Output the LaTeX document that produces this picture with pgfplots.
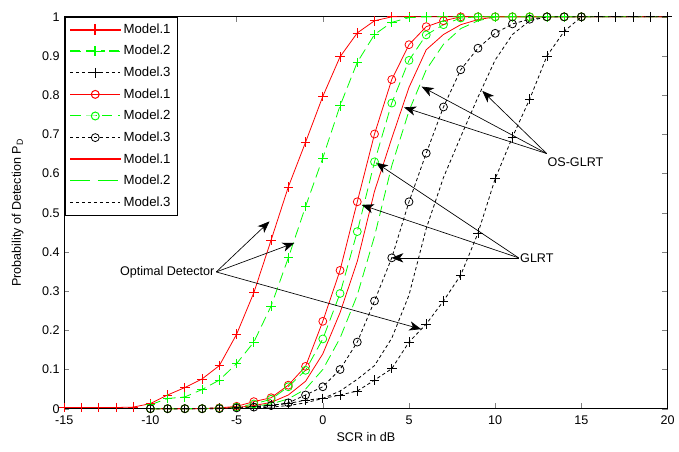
\documentclass[border=0pt]{standalone}
\usepackage{pgfplots}
\pgfplotsset{compat=1.18}
\usepackage{fontspec}
\setmainfont{Liberation Sans}
\usetikzlibrary{arrows.meta}
\definecolor{mred}{RGB}{255,0,0}
\definecolor{mgreen}{RGB}{0,255,0}
\definecolor{lredA}{RGB}{254,0,0}
\definecolor{lredB}{RGB}{253,1,1}
\definecolor{lredC}{RGB}{252,2,2}
\definecolor{lgreenA}{RGB}{0,254,0}
\definecolor{lgreenB}{RGB}{1,253,1}
\definecolor{lgreenC}{RGB}{2,252,2}
\tikzset{
  sA/.style={line width=0.6pt},
  sL/.style={line width=0.75pt},
  dB/.style={dash pattern=on 8pt off 4pt},
  dC/.style={dash pattern=on 2.5pt off 2pt},
}
\begin{document}
\begin{tikzpicture}[x=0.75pt,y=0.75pt]
\begin{axis}[
  width=456.2pt, height=296.25pt, scale only axis,
  xmin=-15, xmax=20, ymin=0, ymax=1,
  xtick={-15,-10,...,20}, ytick={0,0.1,...,1.0},
  yticklabels={0,0.1,0.2,0.3,0.4,0.5,0.6,0.7,0.8,0.9,1},
  tick align=inside, major tick length=4pt,
  /pgf/number format/assume math mode=true,
  tick label style={font=\fontsize{9.5}{11}\selectfont},
  xticklabel style={yshift=-2pt},
  label style={font=\fontsize{9.5}{11}\selectfont},
  xlabel={SCR in dB},
  ylabel={Probability of Detection P\textsubscript{D}},
  xlabel style={at={(axis description cs:0.5,-0.071)},anchor=center},
  ylabel style={at={(axis description cs:-0.077,0.5)},anchor=center},
  axis line style={line width=0.6pt},
  clip=false,
  legend cell align=left,
  legend style={at={(axis description cs:0.002,1)},anchor=north west,
    font=\fontsize{10}{12}\selectfont, row sep=3.6pt, inner xsep=3pt, inner ysep=3pt},
]
% Optimal detector
\addplot[sA, draw=mred, mark=+, mark size=3.6pt, mark options={solid,draw=mred},
  legend image code/.code={%
    \fill[fill=lredA] (0pt,-0.35pt) rectangle (38pt,0.35pt);
    \fill[fill=lredA] (18.65pt,-3.6pt) rectangle (19.35pt,3.6pt);}] coordinates {
(-15,0.003)(-14,0.003)(-13,0.003)(-12,0.003)(-11,0.004)(-10,0.013)(-9,0.035)(-8,0.054)(-7,0.076)(-6,0.11)(-5,0.19)(-4,0.296)(-3,0.43)(-2,0.566)(-1,0.68)(0,0.797)(1,0.898)(2,0.959)(3,0.99)(4,1)(5,1)(6,1)(7,1)(8,1)(9,1)(10,1)(11,1)(12,1)(13,1)(14,1)(15,1)(16,1)(17,1)(18,1)(19,1)(20,1)};
\addlegendentry{Model.1}
\addplot[sA, draw=mgreen, dB, mark=+, mark size=3.6pt, mark options={solid,draw=mgreen},
  legend image code/.code={%
    \fill[fill=lgreenA] (0pt,-0.35pt) rectangle (8pt,0.35pt);
    \fill[fill=lgreenA] (12pt,-0.35pt) rectangle (26pt,0.35pt);
    \fill[fill=lgreenA] (30pt,-0.35pt) rectangle (38pt,0.35pt);
    \fill[fill=lgreenA] (18.65pt,-3.6pt) rectangle (19.35pt,3.6pt);}] coordinates {
(-10,0.01)(-9,0.026)(-8,0.03)(-7,0.049)(-6,0.073)(-5,0.115)(-4,0.17)(-3,0.262)(-2,0.385)(-1,0.516)(0,0.64)(1,0.773)(2,0.884)(3,0.955)(4,0.986)(5,0.998)(6,1)(7,1)(8,1)(9,1)(10,1)(11,1)(12,1)(13,1)(14,1)(15,1)(16,1)(17,1)(18,1)(19,1)(20,1)};
\addlegendentry{Model.2}
\addplot[sA, draw=black, dC, mark=+, mark size=3.6pt, mark options={solid,draw=black},
  legend image code/.code={\draw[sA,black,dC,mark=+,mark size=3.6pt,mark options={solid},mark repeat=2,mark phase=2] plot coordinates {(0pt,0pt)(19pt,0pt)(38pt,0pt)};}] coordinates {
(-10,0)(-9,0)(-8,0)(-7,0.001)(-6,0.002)(-5,0.003)(-4,0.006)(-3,0.009)(-2,0.013)(-1,0.022)(0,0.026)(1,0.035)(2,0.045)(3,0.073)(4,0.102)(5,0.17)(6,0.216)(7,0.275)(8,0.341)(9,0.448)(10,0.587)(11,0.693)(12,0.79)(13,0.9)(14,0.963)(15,1)(16,1)(17,1)(18,1)(19,1)(20,1)};
\addlegendentry{Model.3}
% GLRT
\addplot[sA, draw=mred, mark=o, mark size=3pt, mark options={solid,draw=mred},
  legend image code/.code={\color{lredB}\pgfsetstrokecolor{lredB}\draw[sL,color=lredB,mark=o,mark size=3pt,mark repeat=2,mark phase=2] plot coordinates {(0pt,0pt)(19pt,0pt)(38pt,0pt)};}] coordinates {
(-10,0)(-9,0)(-8,0)(-7,0)(-6,0.002)(-5,0.006)(-4,0.018)(-3,0.028)(-2,0.06)(-1,0.108)(0,0.223)(1,0.353)(2,0.528)(3,0.701)(4,0.84)(5,0.929)(6,0.975)(7,0.99)(8,1)(9,1)(10,1)(11,1)(12,1)(13,1)(14,1)(15,1)};
\addlegendentry{Model.1}
\addplot[sA, draw=mgreen, dB, mark=o, mark size=3pt, mark options={solid,draw=mgreen},
  legend image code/.code={\color{lgreenB}\pgfsetstrokecolor{lgreenB}\draw[sL,color=lgreenB,dB,mark=o,mark size=3pt,mark options={solid},mark repeat=2,mark phase=2] plot coordinates {(0pt,0pt)(19pt,0pt)(38pt,0pt)};}] coordinates {
(-10,0)(-9,0)(-8,0)(-7,0)(-6,0.001)(-5,0.004)(-4,0.012)(-3,0.024)(-2,0.056)(-1,0.098)(0,0.178)(1,0.294)(2,0.452)(3,0.63)(4,0.78)(5,0.889)(6,0.954)(7,0.98)(8,0.997)(9,1)(10,1)(11,1)(12,1)(13,1)(14,1)(15,1)};
\addlegendentry{Model.2}
\addplot[sA, draw=black, dC, mark=o, mark size=3pt, mark options={solid,draw=black},
  legend image code/.code={\draw[sA,black,dC,mark=o,mark size=3pt,mark options={solid},mark repeat=2,mark phase=2] plot coordinates {(0pt,0pt)(19pt,0pt)(38pt,0pt)};}] coordinates {
(-10,0)(-9,0)(-8,0)(-7,0)(-6,0)(-5,0.002)(-4,0.004)(-3,0.008)(-2,0.015)(-1,0.035)(0,0.056)(1,0.1)(2,0.17)(3,0.275)(4,0.385)(5,0.528)(6,0.652)(7,0.77)(8,0.865)(9,0.92)(10,0.958)(11,0.982)(12,0.994)(13,1)(14,1)(15,1)};
\addlegendentry{Model.3}
% OS-GLRT
\addplot[sA, draw=mred, mark=none,
  legend image code/.code={\fill[fill=lredC] (0pt,-0.35pt) rectangle (38pt,0.35pt);}] coordinates {
(-10,0)(-8,0)(-6,0.001)(-5,0.003)(-4,0.008)(-3,0.016)(-2,0.035)(-1,0.07)(0,0.14)(1,0.245)(2,0.376)(3,0.555)(4,0.69)(5,0.82)(6,0.916)(7,0.955)(8,0.98)(9,0.993)(10,1)(15,1)(20,1)};
\addlegendentry{Model.1}
\addplot[sA, draw=mgreen, mark=none, dB,
  legend image code/.code={\color{lgreenC}\pgfsetstrokecolor{lgreenC}\draw[sL,color=lgreenC,dash pattern=on 15pt off 6pt] (0pt,0pt) -- (38pt,0pt);}] coordinates {
(-10,0)(-8,0)(-6,0.001)(-5,0.002)(-4,0.006)(-3,0.012)(-2,0.025)(-1,0.05)(0,0.1)(1,0.18)(2,0.29)(3,0.44)(4,0.62)(5,0.76)(6,0.865)(7,0.93)(8,0.97)(9,0.99)(10,1)(15,1)(20,1)};
\addlegendentry{Model.2}
\addplot[sA, draw=black, mark=none, dC,
  legend image code/.code={\draw[sA,black,dC] (0pt,0pt) -- (38pt,0pt);}] coordinates {
(-10,0)(-8,0)(-6,0)(-4,0.002)(-3,0.004)(-2,0.008)(-1,0.015)(0,0.026)(1,0.045)(2,0.075)(3,0.11)(4,0.18)(5,0.29)(6,0.46)(7,0.59)(8,0.694)(9,0.795)(10,0.89)(11,0.955)(12,0.99)(13,1)(15,1)(20,1)};
\addlegendentry{Model.3}
% annotations
\draw[line width=0.5pt,-{Stealth[length=9pt,width=7pt,inset=2.5pt]}] (axis cs:-6.18,0.349) -- (axis cs:-3.09,0.478);
\draw[line width=0.5pt,-{Stealth[length=9pt,width=7pt,inset=2.5pt]}] (axis cs:-6.18,0.349) -- (axis cs:-1.65,0.423);
\draw[line width=0.5pt,-{Stealth[length=9pt,width=7pt,inset=2.5pt]}] (axis cs:-6.18,0.349) -- (axis cs:5.71,0.203);
\node[anchor=east,inner sep=1pt,font=\fontsize{9.5}{11}\selectfont] at (axis cs:-6.2,0.347) {Optimal Detector};
\draw[line width=0.5pt,-{Stealth[length=9pt,width=7pt,inset=2.5pt]}] (axis cs:12.99,0.651) -- (axis cs:5.73,0.822);
\draw[line width=0.5pt,-{Stealth[length=9pt,width=7pt,inset=2.5pt]}] (axis cs:12.99,0.651) -- (axis cs:4.71,0.769);
\draw[line width=0.5pt,-{Stealth[length=9pt,width=7pt,inset=2.5pt]}] (axis cs:12.99,0.651) -- (axis cs:9.25,0.811);
\node[anchor=west,inner sep=1pt,font=\fontsize{9.5}{11}\selectfont] at (axis cs:12.95,0.628) {OS-GLRT};
\draw[line width=0.5pt,-{Stealth[length=9pt,width=7pt,inset=2.5pt]}] (axis cs:11.36,0.385) -- (axis cs:2.26,0.52);
\draw[line width=0.5pt,-{Stealth[length=9pt,width=7pt,inset=2.5pt]}] (axis cs:11.36,0.385) -- (axis cs:3.98,0.385);
\draw[line width=0.5pt,-{Stealth[length=9pt,width=7pt,inset=2.5pt]}] (axis cs:11.36,0.385) -- (axis cs:3.08,0.628);
\node[anchor=west,inner sep=1pt,font=\fontsize{9.5}{11}\selectfont] at (axis cs:11.36,0.385) {GLRT};
\path (rel axis cs:-0.1064,-0.1089) rectangle (rel axis cs:1.0099,1.043);
\end{axis}
\end{tikzpicture}
\end{document}
